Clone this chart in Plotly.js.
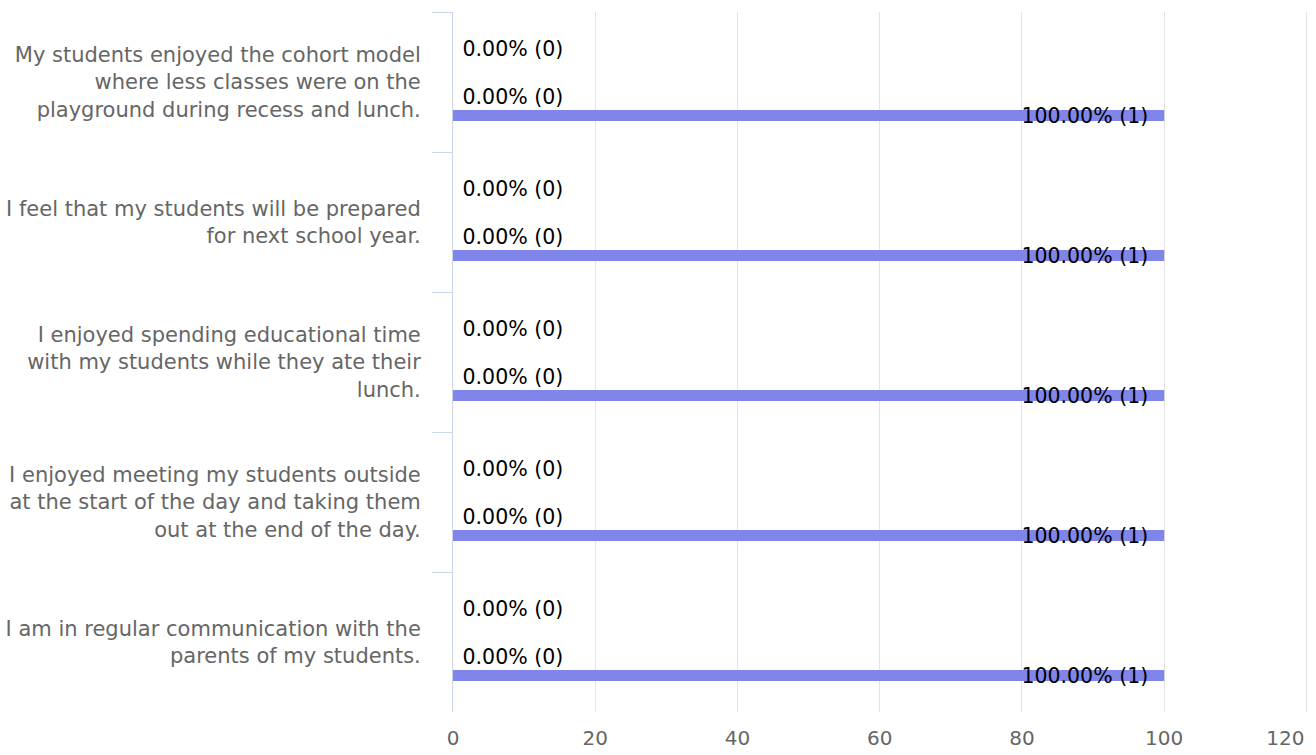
<!DOCTYPE html>
<html>
<head>
<meta charset="utf-8">
<script src="https://cdn.plot.ly/plotly-3.0.1.min.js"></script>
<style>
html,body{margin:0;padding:0;background:#fff;}
#chart{width:1316px;height:755px;}
</style>
</head>
<body>
<div id="chart"></div>
<script>
// Categories (top to bottom)
const categories = [
  "My students enjoyed the cohort model<br>where less classes were on the<br>playground during recess and lunch.",
  "I feel that my students will be prepared<br>for next school year.",
  "I enjoyed spending educational time<br>with my students while they ate their<br>lunch.",
  "I enjoyed meeting my students outside<br>at the start of the day and taking them<br>out at the end of the day.",
  "I am in regular communication with the<br>parents of my students."
];
// Series values (percent) and response counts
const seriesAPct = [0, 0, 0, 0, 0];
const seriesACount = [0, 0, 0, 0, 0];
const seriesBPct = [0, 0, 0, 0, 0];
const seriesBCount = [0, 0, 0, 0, 0];
const seriesCPct = [100, 100, 100, 100, 100];
const seriesCCount = [1, 1, 1, 1, 1];
const xTicks = [0, 20, 40, 60, 80, 100, 120];

const NB = "\u00a0";
function labels(p, c){ return p.map((v,i)=> v.toFixed(2) + "% (" + c[i] + ")"); }

const FONT = "DejaVu Sans, Verdana, sans-serif";
const barColor = "#8085e9";
const W = 11/140;

function zeroTrace(p, c, off, xax){
  return {
    type: "bar", orientation: "h",
    xaxis: xax, yaxis: "y",
    y: categories, x: p,
    text: labels(p, c).map(s => NB + s),
    textposition: "outside",
    cliponaxis: false,
    constraintext: "none",
    textangle: 0,
    textfont: {family: FONT, size: 20.5, color: "#000000"},
    marker: {color: barColor, line: {width: 0}},
    width: W, offset: off,
    hoverinfo: "skip", showlegend: false
  };
}

const traces = [
  zeroTrace(seriesAPct, seriesACount, -0.277, "x2"),
  zeroTrace(seriesBPct, seriesBCount, 0.065, "x"),
  {
    type: "bar", orientation: "h",
    xaxis: "x", yaxis: "y",
    y: categories, x: seriesCPct,
    text: labels(seriesCPct, seriesCCount).map(s => s + NB + NB),
    textposition: "inside",
    insidetextanchor: "end",
    constraintext: "none",
    cliponaxis: false,
    textangle: 0,
    textfont: {family: FONT, size: 20.5, color: "#000000"},
    marker: {color: barColor, line: {width: 0}},
    width: W, offset: 0.2,
    hoverinfo: "skip", showlegend: false
  }
];

const lastTick = xTicks[xTicks.length - 1];
const xRange = [0, 120.5];
const tickFont = {family: FONT, size: 20, color: "#666666"};

const layout = {
  width: 1316, height: 755,
  margin: {l: 453, r: 6, t: 12, b: 43, pad: 0},
  paper_bgcolor: "#ffffff", plot_bgcolor: "#ffffff",
  barmode: "overlay",
  font: {family: FONT, color: "#666666"},
  showlegend: false,
  xaxis: {
    range: xRange,
    tickvals: xTicks,
    ticktext: xTicks.map(v => v === lastTick ? "" : String(v)),
    showgrid: true, gridcolor: "#e3e3e3", gridwidth: 1,
    zeroline: false, showline: false,
    ticks: "outside", ticklen: 8, tickcolor: "rgba(0,0,0,0)",
    tickfont: tickFont,
    fixedrange: true
  },
  // same scale as xaxis; carries only the last tick label, shifted left to stay inside the chart
  xaxis2: {
    overlaying: "x", anchor: "y", side: "bottom",
    range: xRange,
    tickvals: [lastTick],
    ticktext: [String(lastTick)],
    ticklabelshift: -21,
    ticklabeloverflow: "allow",
    showgrid: false, zeroline: false, showline: false,
    ticks: "outside", ticklen: 8, tickcolor: "rgba(0,0,0,0)",
    tickfont: tickFont,
    fixedrange: true
  },
  yaxis: {
    type: "category",
    categoryorder: "array", categoryarray: categories,
    range: [4.5, -0.5],
    showgrid: false, zeroline: false,
    showline: true, linecolor: "#ccd6eb", linewidth: 1,
    ticks: "outside", tickson: "boundaries", ticklen: 20, tickwidth: 1, tickcolor: "#ccd6eb",
    tickfont: {family: FONT, size: 21, color: "#666666"},
    ticklabelstandoff: 27,
    fixedrange: true
  }
};

Plotly.newPlot("chart", traces, layout, {displayModeBar: false, staticPlot: true});
</script>
</body>
</html>
